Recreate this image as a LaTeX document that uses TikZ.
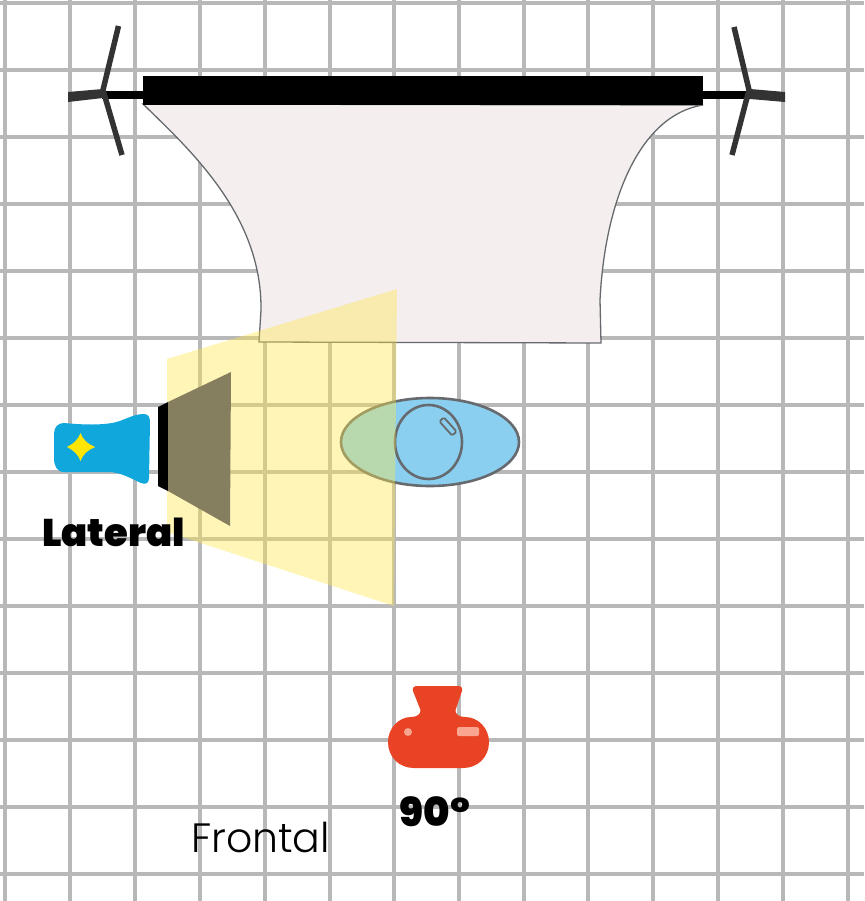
\documentclass[tikz,border=0pt]{standalone}
\usepackage{fontspec}
\setmainfont{Poppins}
\newfontfamily\heavyfont[UprightFont=* Black]{Poppins}
\newfontfamily\lightfont[UprightFont=* Light]{Poppins}
\definecolor{gridc}{HTML}{B8B8B8}
\definecolor{fabric}{HTML}{F4EEEE}
\definecolor{standc}{HTML}{333333}
\definecolor{lampblue}{HTML}{10A8DC}
\definecolor{starc}{HTML}{FFE600}
\definecolor{beam}{HTML}{FFE74C}
\definecolor{snoot}{HTML}{857F5F}
\definecolor{subject}{HTML}{8ACFEF}
\definecolor{outline}{HTML}{666A6E}
\definecolor{camred}{HTML}{E84325}
\definecolor{camhi}{HTML}{F9A58F}
\tikzset{
  gridline/.style={gridc,line width=3.3pt},
  standleg/.style={standc,line width=5.5pt},
  subjectline/.style={outline,line width=2.6pt},
  heavytext/.style={inner sep=0pt,anchor=base,text=black,font=\heavyfont\fontsize{38.5}{38.5}\selectfont},
}
\begin{document}
\begin{tikzpicture}[x=1pt,y=-1pt]
\useasboundingbox (0,0) rectangle (864,901);
\fill[white] (0,0) rectangle (864,901);
% grid
\foreach \gx in {5,70,135,200,265,330,394,459,524,588,653,718,783,848}
  \draw[gridline] (\gx,0) -- (\gx,901);
\foreach \gy in {3,70,137,204,271,338,405,472,539,606,673,740,807,874}
  \draw[gridline] (0,\gy) -- (864,\gy);
% fabric
\fill[fabric,draw=outline,line width=1.3pt] (143,104)
  .. controls (190,150) and (262,215) .. (261,310) -- (259,342) -- (601,343) -- (600,300)
  .. controls (605,200) and (640,115) .. (703,105) -- cycle;
% stands
\fill[black] (102,91) rectangle (750,99);
\fill[black] (143,76) rectangle (703,105);
\draw[standleg,line join=miter] (118.5,26) -- (103,90) -- (122,155);
\draw[standleg,line join=miter] (734,27) -- (749,90) -- (732,155);
\fill[standc] (68,92) -- (103,89) -- (103,98) -- (68,102) -- cycle;
\fill[standc] (785,92) -- (750,89) -- (750,99) -- (785,102) -- cycle;
% subject
\fill[subject] (430,442) ellipse [x radius=89,y radius=44];
\draw[subjectline] (430,442) ellipse [x radius=89,y radius=44];
\draw[subjectline] (428.5,442) ellipse [x radius=33.5,y radius=37];
\draw[outline,line width=1.8pt,rounded corners=1.5pt,rotate around={-48:(448,426.5)}] (438.5,423.5) rectangle (457.5,429.5);
% beam
\fill[beam,opacity=.4] (167,359) -- (397,289) -- (394,606) -- (167,532) -- cycle;
% lamp
\fill[lampblue] (64,423)
  .. controls (85,425) and (100,425) .. (112,423)
  .. controls (124,421) and (132,414) .. (144,414)
  .. controls (148,414) and (150,417) .. (150,422)
  -- (149,478)
  .. controls (149,483) and (146,485) .. (141,483)
  .. controls (130,478) and (122,473) .. (110,472)
  -- (64,472)
  .. controls (57,472) and (54,466) .. (54,458)
  -- (54,434)
  .. controls (54,427) and (58,423) .. (64,423) -- cycle;
\fill[starc] (80.5,433) .. controls (83,440) and (88,444) .. (95,447)
  .. controls (88,450) and (83,454) .. (80.5,461)
  .. controls (78,454) and (73,450) .. (67,447)
  .. controls (73,444) and (78,440) .. (80.5,433) -- cycle;
\fill[black] (158,407) -- (168,402) -- (168,491) -- (158,486) -- cycle;
\fill[snoot] (168,402) -- (231,372) -- (230,526) -- (168,491) -- cycle;
% camera
\fill[camred] (417,686) -- (458,686)
  .. controls (461,686) and (463,688) .. (462,691)
  -- (455.5,710) .. controls (455,714) and (459,717) .. (465,717)
  .. controls (478,717) and (489,728) .. (489,742)
  .. controls (489,757) and (478,768) .. (463,768)
  -- (414,768) .. controls (399,768) and (388,757) .. (388,742)
  .. controls (388,728) and (399,717) .. (411,717)
  .. controls (417,717) and (421,714) .. (420.5,710)
  -- (413,691) .. controls (412,688) and (414,686) .. (417,686) -- cycle;
\fill[camhi] (408,732) circle (4);
\fill[camhi,rounded corners=1.5pt] (457,727) rectangle (479,736);
% labels
\node[heavytext] (lateral) at (113.5,546) {Lateral};
\node[heavytext,font=\heavyfont\fontsize{40}{40}\selectfont] (angle) at (435,826) {90°};
\node[inner sep=0pt,anchor=base,text=black,font=\lightfont\fontsize{41}{41}\selectfont] (frontal) at (260.5,852) {Frontal};
\end{tikzpicture}
\end{document}
